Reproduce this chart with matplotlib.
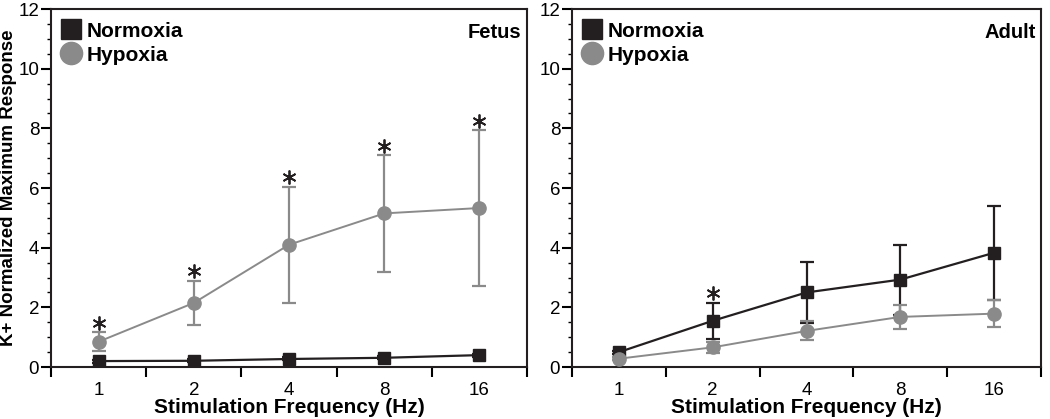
import numpy as np
import matplotlib
matplotlib.use('Agg')
import matplotlib.pyplot as plt
from matplotlib.lines import Line2D
from matplotlib.ticker import MultipleLocator

plt.rcParams['font.family'] = ['Liberation Sans', 'DejaVu Sans']

# ── data ─────────────────────────────────────────
freq_labels = ['1', '2', '4', '8', '16']

fetus_norm_mean = [0.20, 0.21, 0.27, 0.31, 0.40]
fetus_norm_sem  = [0.05, 0.05, 0.05, 0.05, 0.05]
fetus_hyp_mean  = [0.85, 2.15, 4.10, 5.15, 5.33]
fetus_hyp_sem   = [0.31, 0.75, 1.95, 1.95, 2.60]
fetus_sig       = [True, True, True, True, True]

adult_norm_mean = [0.50, 1.55, 2.50, 2.93, 3.83]
adult_norm_sem  = [0.05, 0.60, 1.02, 1.17, 1.58]
adult_hyp_mean  = [0.28, 0.66, 1.21, 1.68, 1.79]
adult_hyp_sem   = [0.05, 0.18, 0.32, 0.41, 0.45]
adult_sig       = [False, True, False, False, False]

BLACK = '#231f20'
GRAY = '#8a8a8a'


def draw_panel(ax, norm_m, norm_s, hyp_m, hyp_s, sig, title, sig_series):
    x = np.arange(len(freq_labels)) + 0.5
    ax.errorbar(x, norm_m, yerr=norm_s, color=BLACK, lw=1.6, marker='s', ms=9,
                mfc=BLACK, mec=BLACK, capsize=5, capthick=1.6, elinewidth=1.6,
                zorder=3)
    ax.errorbar(x, hyp_m, yerr=hyp_s, color=GRAY, lw=1.4, marker='o', ms=9.5,
                mfc=GRAY, mec=GRAY, capsize=5, capthick=1.6, elinewidth=1.6,
                zorder=4)

    # significance asterisks above the upper error cap
    m, s = sig_series
    for xi, mi, si, flag in zip(x, m, s, sig):
        if flag:
            ax.plot(xi, mi + si + 0.32, marker=(6, 2, 0), ms=10, mew=1.3,
                    color=BLACK, zorder=5)

    ax.set_xlim(0, 5)
    ax.set_ylim(0, 12)
    ax.set_xticks(np.arange(0, 6))
    ax.set_xticklabels([])
    ax.set_xticks(x, minor=True)
    ax.set_xticklabels(freq_labels, minor=True, fontsize=13.5)
    ax.tick_params(axis='x', which='major', length=7, width=1.5, direction='out')
    ax.tick_params(axis='x', which='minor', length=0, pad=11)
    ax.yaxis.set_major_locator(MultipleLocator(2))
    ax.yaxis.set_minor_locator(MultipleLocator(0.5))
    ax.tick_params(axis='y', which='major', length=7.5, width=1.5, pad=1, labelsize=13.5)
    ax.tick_params(axis='y', which='minor', length=3, width=1)
    for sp in ax.spines.values():
        sp.set_linewidth(1.5)
        sp.set_color(BLACK)

    ax.set_xlabel('Stimulation Frequency (Hz)', fontsize=15, fontweight='bold', labelpad=-1)
    ax.text(0.988, 0.962, title, transform=ax.transAxes, ha='right', va='top',
            fontsize=14.5, fontweight='bold')

    handles = [
        Line2D([], [], ls='none', marker='s', ms=15, color=BLACK),
        Line2D([], [], ls='none', marker='o', ms=16, color=GRAY),
    ]
    ax.legend(handles, ['Normoxia', 'Hypoxia'], loc='upper left', frameon=False,
              bbox_to_anchor=(-0.011, 1.008),
              handlelength=0.9, handletextpad=0.3, labelspacing=0.24,
              borderaxespad=0.45, borderpad=0.3,
              prop={'weight': 'bold', 'size': 15})


fig = plt.figure(figsize=(10.5, 4.19), dpi=100)
ax1 = fig.add_axes([0.0486, 0.124, 0.4534, 0.8545])
ax2 = fig.add_axes([0.5448, 0.124, 0.4466, 0.8545])

draw_panel(ax1, fetus_norm_mean, fetus_norm_sem, fetus_hyp_mean, fetus_hyp_sem,
           fetus_sig, 'Fetus', (fetus_hyp_mean, fetus_hyp_sem))
draw_panel(ax2, adult_norm_mean, adult_norm_sem, adult_hyp_mean, adult_hyp_sem,
           adult_sig, 'Adult', (adult_norm_mean, adult_norm_sem))

ax1.set_ylabel('K+ Normalized Maximum Response', fontsize=13.5, fontweight='bold',
               labelpad=1)

fig.savefig('out.png', dpi=100)
